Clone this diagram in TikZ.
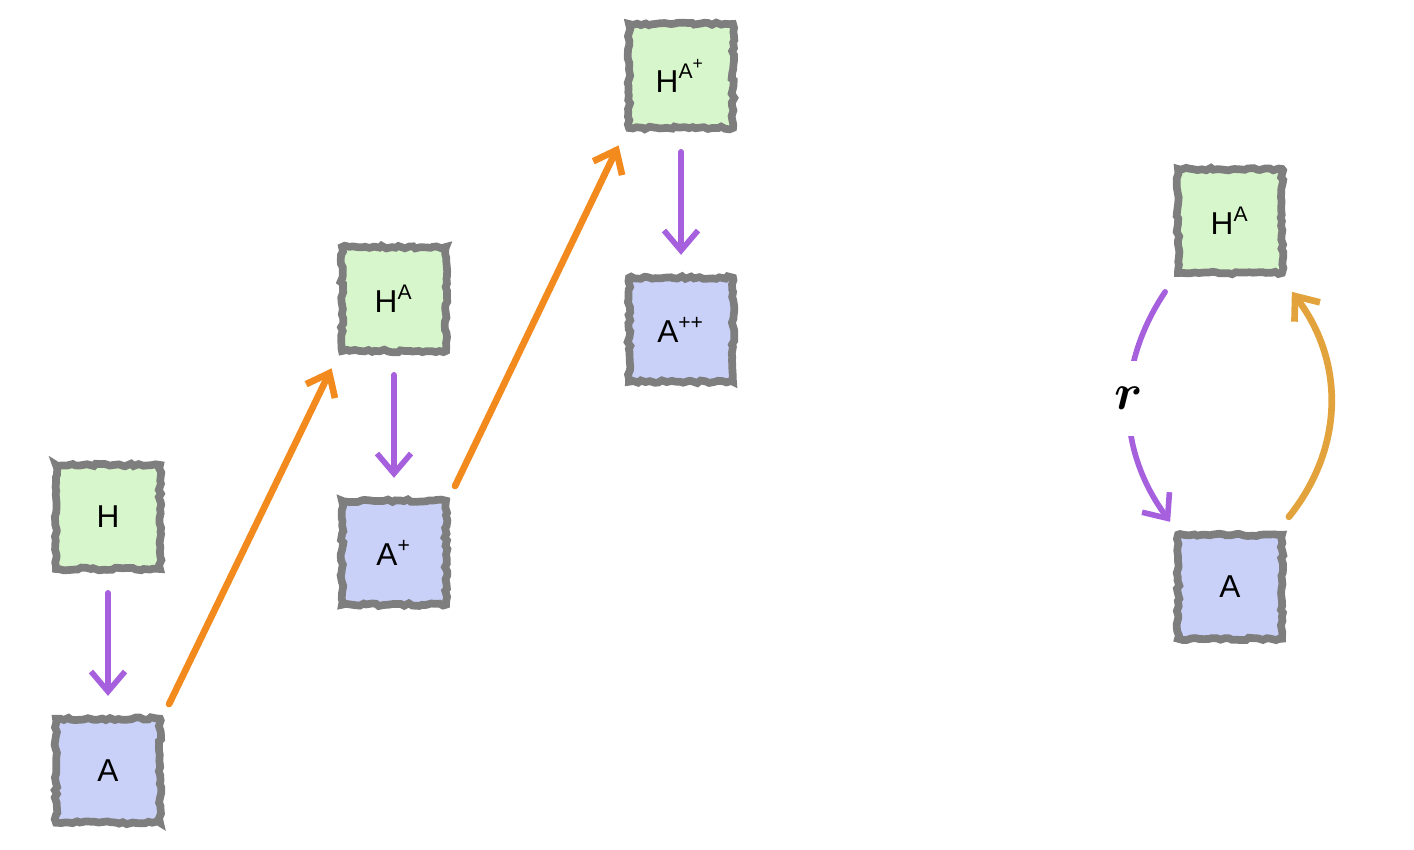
\documentclass[tikz,border=0pt]{standalone}
\usepackage{fontspec}
\setmainfont{Liberation Sans}
\usepackage{bm}
\usepackage{tikz}
\usetikzlibrary{arrows.meta,positioning,decorations.pathmorphing}
\definecolor{edgegray}{HTML}{7E7E7E}
\definecolor{hgreen}{HTML}{D8F6CB}
\definecolor{ablue}{HTML}{C9D1F8}
\definecolor{purp}{HTML}{A660DE}
\definecolor{orng}{HTML}{F28A1E}
\definecolor{gold}{HTML}{E2A23C}
\tikzset{
  sqbox/.style={rectangle, draw=edgegray, line width=2.2pt, fill=#1, minimum size=1.04cm,
                inner sep=0pt, font=\fontsize{9}{10}\selectfont,
                decorate, decoration={random steps, segment length=1.2pt, amplitude=0.4pt}},
  purarr/.style={-{Straight Barb[length=2mm, width=3.4mm]}, line width=1.6pt, draw=purp, line cap=round},
  orarr/.style={-{Straight Barb[length=2mm, width=3.2mm]}, line width=1.9pt, draw=#1, line cap=round},
  rlabel/.style={fill=white, minimum height=0.75cm, inner sep=1pt, font=\fontsize{15}{17}\selectfont},
}
\begin{document}
\begin{tikzpicture}[node distance=1.42cm]
        \useasboundingbox (0,0) rectangle (14.14,8.5);
        % left staircase
        \node[sqbox=hgreen] (h) at (1.08,3.33) {H};
        \node[sqbox=ablue, below=of h] (a) {A};
        \node[sqbox=hgreen] (ha) at (3.94,5.51) {H\textsuperscript{A}};
        \node[sqbox=ablue, below=of ha] (ap) {A\textsuperscript{+}};
        \node[sqbox=hgreen] (hap) at (6.81,7.74) {H\textsuperscript{A\textsuperscript{+}}};
        \node[sqbox=ablue, below=of hap] (app) {A\textsuperscript{++}};
        \draw[purarr, shorten <=2mm, shorten >=1.9mm] (h) -- (a);
        \draw[purarr, shorten <=2mm, shorten >=1.9mm] (ha) -- (ap);
        \draw[purarr, shorten <=2mm, shorten >=1.9mm] (hap) -- (app);
        \draw[orarr=orng, shorten <=1.2mm, shorten >=1.5mm] (a.north east) -- (ha.south west);
        \draw[orarr=orng, shorten <=1.2mm, shorten >=1.5mm] (ap.north east) -- (hap.south west);
        % right loop
        \node[sqbox=hgreen] (rh) at (12.30,6.29) {H\textsuperscript{A}};
        \node[sqbox=ablue, below=2.54cm of rh] (ra) {A};
        \draw[purarr] ([shift={(-0.09,-0.15)}]rh.south west) to[bend right=35]
              node[rlabel, pos=0.46] {$\bm{r}$} ([shift={(-0.04,0.09)}]ra.north west);
        \draw[orarr=gold] ([shift={(0.03,0.14)}]ra.north east) to[bend right=38]
              ([shift={(0.06,-0.15)}]rh.south east);
      \end{tikzpicture}
\end{document}
